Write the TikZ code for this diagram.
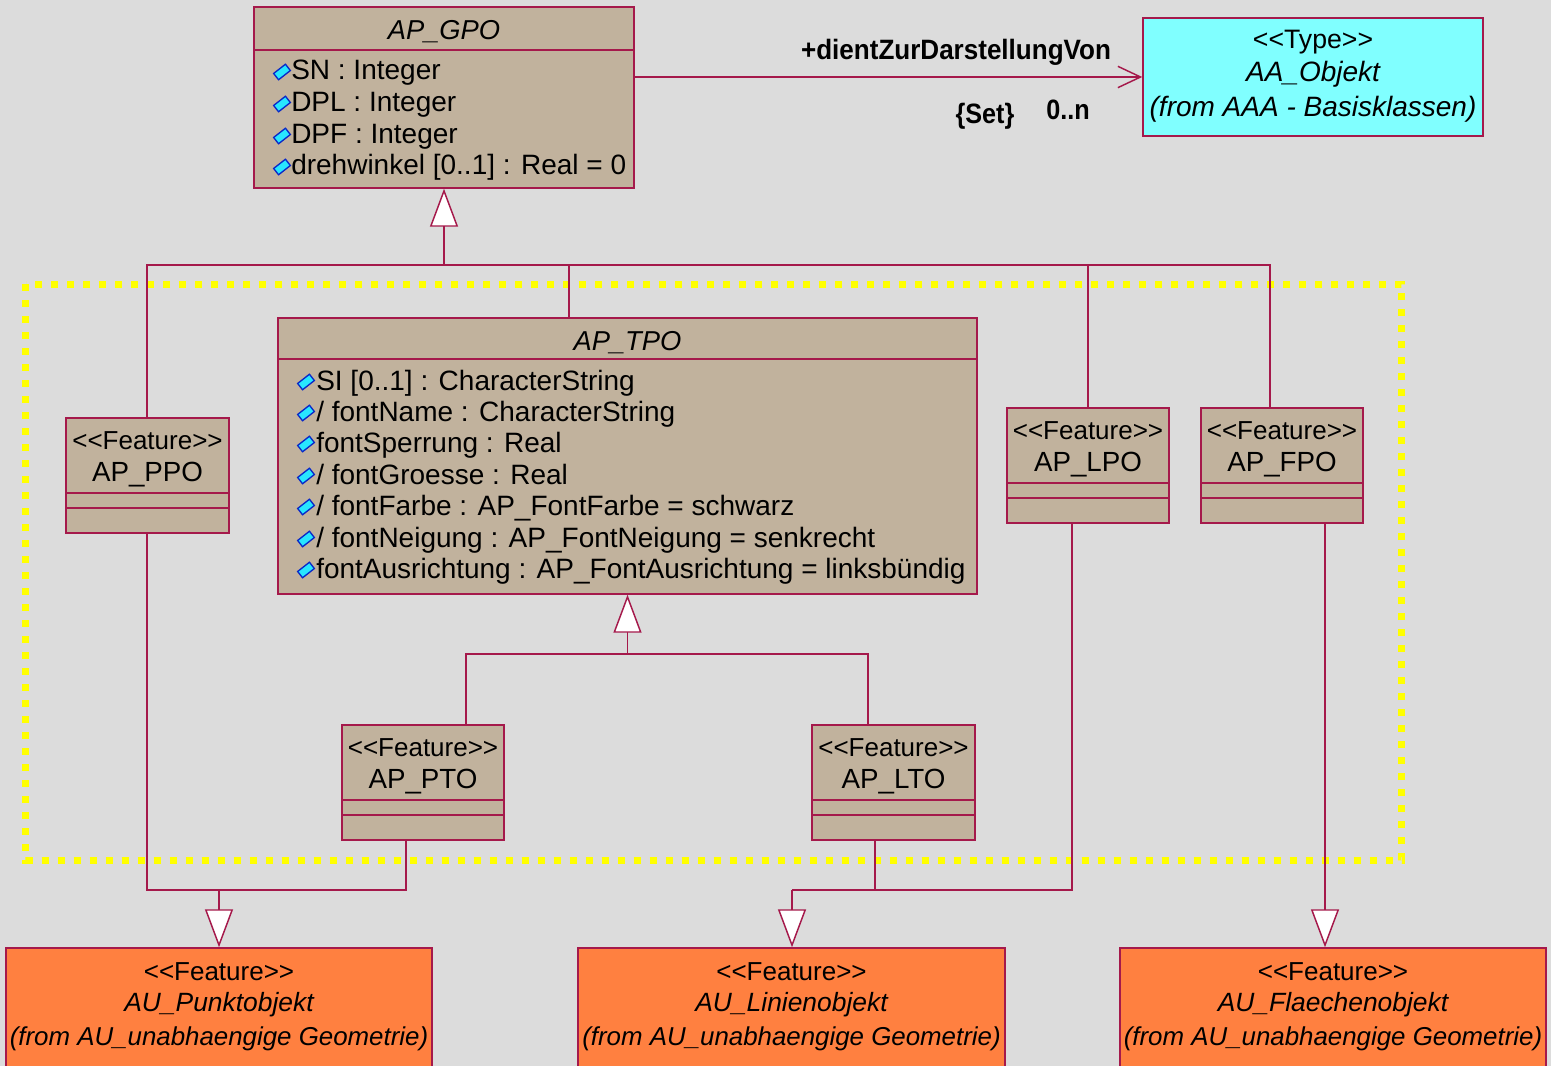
\documentclass[tikz,border=0pt]{standalone}
\usepackage{fontspec}
\setmainfont{Liberation Sans}[Ligatures=TeXOff]
\usepackage{graphicx}
\usetikzlibrary{arrows.meta,fit}

\definecolor{canvas}{RGB}{220,220,220}
\definecolor{classfill}{RGB}{193,178,157}
\definecolor{edge}{RGB}{165,25,75}
\definecolor{extfill}{RGB}{255,128,64}
\definecolor{typefill}{RGB}{128,255,255}
\definecolor{marker}{RGB}{255,255,0}
\definecolor{iconfill}{RGB}{40,230,255}
\definecolor{iconedge}{RGB}{10,40,200}

\tikzset{
  cls/.style={rectangle, draw=edge, fill=classfill, line width=1.1pt, inner sep=0pt},
  extcls/.style={cls, fill=extfill},
  typecls/.style={cls, fill=typefill},
  link/.style={draw=edge, line width=1.1pt},
  gen/.style={link, -{Triangle[length=28.5pt,width=21pt,fill=white]}},
  nav/.style={link, -{Straight Barb[length=17pt,width=16pt]}},
  txt/.style={anchor=base, inner sep=0pt, font=\fontsize{20.5}{24}\selectfont},
  attr/.style={txt, anchor=base west, font=\fontsize{21}{24}\selectfont},
  stereo/.style={txt, font=\fontsize{19.5}{24}\selectfont},
  rolelbl/.style={anchor=base, inner sep=0pt, font=\fontsize{21}{24}\selectfont\bfseries},
  attricon/.pic={
    \filldraw[fill=iconfill, draw=iconedge, line width=1pt, rotate=38]
      (-7.5,-4) rectangle (7.5,4);
  },
}

\newcommand\cut[2]{\draw[link] (#1.west |- 0,#2) -- (#1.east |- 0,#2);}

\begin{document}
\begin{tikzpicture}[x=0.75pt,y=-0.75pt]
\clip (0,0) rectangle (1551,1066);
\fill[canvas] (0,0) rectangle (1551,1066);

% package frame (drawn underneath everything else)
\draw[marker, line width=5.25pt, dash pattern=on 5.25pt off 6.75pt]
  (25.5,284) rectangle (1401.5,860);

% ---------- classes ----------
\node[cls, fit={(254,7) (634,188)}] (gpo) {};
\cut{gpo}{50}
\node[txt, font=\fontsize{20.5}{24}\selectfont\itshape] (gpoName) at (444,40) {AP\_GPO};
\foreach \y/\t [count=\i] in {80/{SN : Integer}, 112/{DPL : Integer}, 144/{DPF : Integer}, 175/{drehwinkel [0..1] : Real = 0}} {
  \pic at (282,\y-8) {attricon};
  \node[attr] (gpoA\i) at (291,\y) {\t};
}

\node[typecls, fit={(1143,18) (1483,136)}] (aa) {};
\node[stereo, font=\fontsize{20}{24}\selectfont] (aaSt) at (1313,49) {<<Type>>};
\node[txt, font=\fontsize{21}{24}\selectfont\itshape] (aaName) at (1313,82) {AA\_Objekt};
\node[txt, font=\fontsize{21}{24}\selectfont\itshape] (aaFrom) at (1313,117) {(from AAA - Basisklassen)};

\node[cls, fit={(278,318) (977,594)}] (tpo) {};
\cut{tpo}{359}
\node[txt, font=\fontsize{20.5}{24}\selectfont\itshape] (tpoName) at (627.5,350) {AP\_TPO};
\foreach \y/\t [count=\i] in {
  390/{SI [0..1] : CharacterString},
  421/{/ fontName : CharacterString},
  452/{fontSperrung : Real},
  484/{/ fontGroesse : Real},
  515/{/ fontFarbe : AP\_FontFarbe = schwarz},
  547/{/ fontNeigung : AP\_FontNeigung = senkrecht},
  578/{fontAusrichtung : AP\_FontAusrichtung = linksbündig}} {
  \pic at (306,\y-8) {attricon};
  \node[attr] (tpoA\i) at (316,\y) {\t};
}

% feature classes with empty compartments
\foreach \n/\xa/\ya/\xb/\yb/\lbl in {
  ppo/66/418/229/533/AP\_PPO,
  lpo/1007/408/1169/523/AP\_LPO,
  fpo/1201/408/1363/523/AP\_FPO,
  pto/342/725/504/840/AP\_PTO,
  lto/812/725/975/840/AP\_LTO} {
  \node[cls, fit={(\xa,\ya) (\xb,\yb)}] (\n) {};
  \draw[link] (\xa,\ya+75) -- (\xb,\ya+75);
  \draw[link] (\xa,\ya+90) -- (\xb,\ya+90);
  \node[stereo] (\n St) at ([yshift=-32*0.75pt]\n.north) {<<Feature>>};
  \node[txt, font=\fontsize{20.8}{24}\selectfont] (\n Name) at ([yshift=-64*0.75pt]\n.north) {\lbl};
}

% external feature classes
\foreach \n/\xa/\xb/\lbl in {
  aup/6/432/AU\_Punktobjekt,
  aul/578/1005/AU\_Linienobjekt,
  auf/1120/1546/AU\_Flaechenobjekt} {
  \node[extcls, fit={(\xa,948) (\xb,1080)}] (\n) {};
  \node[stereo] (\n St) at ({(\xa+\xb)/2},980) {<<Feature>>};
  \node[txt, font=\fontsize{19.8}{24}\selectfont\itshape] (\n Name) at ({(\xa+\xb)/2},1011) {\lbl};
  \node[txt, font=\fontsize{19.4}{24}\selectfont\itshape] (\n From) at ({(\xa+\xb)/2},1045) {(from AU\_unabhaengige Geometrie)};
}

% ---------- association ----------
\draw[nav] (gpo.east |- aa.west) -- (aa.west);
\node[rolelbl] (role) at (956,60) {\scalebox{0.93}[1]{+dientZurDarstellungVon}};
\node[rolelbl] (setlbl) at (985,124) {\scalebox{0.9}[1]{\{Set\}}};
\node[rolelbl] (mult) at (1068,120) {\scalebox{0.9}[1]{0..n}};

% ---------- generalizations to AP_GPO ----------
\coordinate (busL) at (147,265);
\coordinate (busR) at (1270,265);
\coordinate (tpoTap) at (569,265);
\draw[link] (busL |- ppo.north) -- (busL) -- (busR) -- (busR |- fpo.north);
\draw[link] (tpoTap) -- (tpoTap |- tpo.north);
\draw[link] (lpo.north |- busL) -- (lpo.north);
\draw[gen] (gpo.south |- busL) -- (gpo.south);

% ---------- generalizations to AP_TPO ----------
\coordinate (subL) at (466,654);
\coordinate (subR) at (868,654);
\draw[link] (subL |- pto.north) -- (subL) -- (subR) -- (subR |- lto.north);
\draw[gen] (tpo.south |- subL) -- (tpo.south);

% ---------- generalizations to the AU classes ----------
\coordinate (pJoin) at (406,890);
\draw[link] (busL |- ppo.south) -- (busL |- pJoin) -- (pJoin) -- (pJoin |- pto.south);
\draw[gen] (aup.north |- pJoin) -- (aup.north);

\coordinate (lJoin) at (1072,890);
\coordinate (lHead) at (792,890);
\coordinate (ltoTap) at (875,890);
\draw[link] (lJoin |- lpo.south) -- (lJoin) -- (lHead);
\draw[link] (ltoTap |- lto.south) -- (ltoTap);
\draw[gen] (lHead) -- (lHead |- aul.north);

\coordinate (fTap) at (1325,523);
\draw[gen] (fTap) -- (fTap |- auf.north);
\end{tikzpicture}
\end{document}
